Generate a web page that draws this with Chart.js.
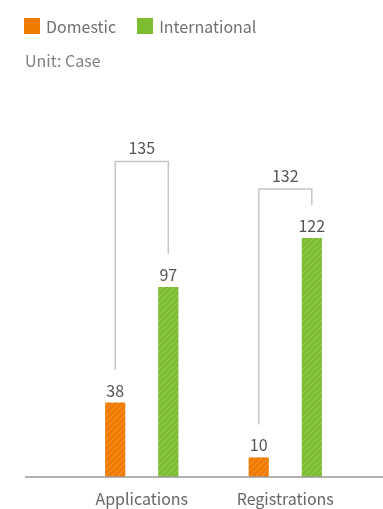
<!DOCTYPE html>
<html>
<head>
<meta charset="utf-8">
<script src="https://cdn.jsdelivr.net/npm/chart.js@4/dist/chart.umd.min.js"></script>
<style>
  html, body { margin: 0; padding: 0; background: #fff; }
  #wrap { position: relative; width: 383px; height: 509px; overflow: hidden; }
  #legend { position: absolute; left: 24px; top: 14px; font: 16px "Noto Sans CJK KR", "Noto Sans", sans-serif; color: #707070; display: flex; }
  #legend .item { display: flex; align-items: center; margin-right: 21px; }
  #legend .box { width: 16px; height: 16px; margin-right: 6px; }
  #unit { position: absolute; left: 25px; top: 48px; font: 16px "Noto Sans CJK KR", "Noto Sans", sans-serif; color: #808080; }
  canvas { position: absolute; left: 0; top: 0; }
</style>
</head>
<body>
<div id="wrap">
  <canvas id="chart" width="383" height="509"></canvas>
  <div id="legend"></div>
  <div id="unit">Unit: Case</div>
</div>
<script>
// categories and series
const categories = ['Applications', 'Registrations'];
const seriesNames = ['Domestic', 'International'];
const domestic = [38, 10];
const international = [97, 122];
const totals = [135, 132];

const seriesColors = ['#f07b00', '#7dbe30'];
const FONT = '"Noto Sans CJK KR", "Noto Sans", sans-serif';

// striped fill for the bars
function stripes(color) {
  const c = document.createElement('canvas');
  c.width = 6; c.height = 6;
  const g = c.getContext('2d');
  g.fillStyle = color;
  g.fillRect(0, 0, 6, 6);
  g.strokeStyle = 'rgba(255,255,255,0.22)';
  g.lineWidth = 1;
  g.beginPath();
  g.moveTo(-1, 7); g.lineTo(7, -1);
  g.moveTo(-4, 4); g.lineTo(4, -4);
  g.moveTo(2, 10); g.lineTo(10, 2);
  g.stroke();
  return g.createPattern(c, 'repeat');
}

// legend built from the series
const legend = document.getElementById('legend');
seriesNames.forEach(function (name, i) {
  const item = document.createElement('div');
  item.className = 'item';
  item.innerHTML = '<div class="box" style="background:' + seriesColors[i] + '"></div>' + name;
  legend.appendChild(item);
});

// value labels over bars + total brackets + baseline
const decorations = {
  id: 'decorations',
  afterDatasetsDraw(chart, args, opts) {
    const ctx = chart.ctx;
    const y = chart.scales.y;
    ctx.save();

    // baseline across the full width
    ctx.strokeStyle = '#999';
    ctx.lineWidth = 1.5;
    ctx.beginPath();
    ctx.moveTo(opts.baseLeft, y.getPixelForValue(0));
    ctx.lineTo(chart.width, y.getPixelForValue(0));
    ctx.stroke();

    ctx.font = '16px ' + FONT;
    ctx.fillStyle = '#555';
    ctx.textAlign = 'center';
    ctx.textBaseline = 'alphabetic';

    chart.data.datasets.forEach(function (ds, d) {
      chart.getDatasetMeta(d).data.forEach(function (bar, i) {
        ctx.fillText(ds.data[i], bar.x, bar.y - 6);
      });
    });

    const b0 = chart.getDatasetMeta(0).data;
    const b1 = chart.getDatasetMeta(1).data;
    ctx.strokeStyle = '#c6c6c6';
    ctx.lineWidth = 1.5;
    totals.forEach(function (t, i) {
      const top = y.getPixelForValue(opts.levels[i]);
      const xl = b0[i].x, xr = b1[i].x;
      ctx.beginPath();
      ctx.moveTo(xl, b0[i].y - 33);
      ctx.lineTo(xl, top);
      ctx.lineTo(xr, top);
      ctx.lineTo(xr, b1[i].y - 33);
      ctx.stroke();
      ctx.fillText(t, (xl + xr) / 2, top - 7);
    });
    ctx.restore();
  }
};

new Chart(document.getElementById('chart'), {
  type: 'bar',
  data: {
    labels: categories,
    datasets: [
      { label: seriesNames[0], data: domestic, backgroundColor: stripes(seriesColors[0]) },
      { label: seriesNames[1], data: international, backgroundColor: stripes(seriesColors[1]) }
    ]
  },
  options: {
    responsive: false,
    animation: false,
    layout: { padding: { left: 70, right: 26, top: 85, bottom: 0 } },
    datasets: { bar: { categoryPercentage: 0.74, barPercentage: 0.38 } },
    plugins: {
      legend: { display: false },
      tooltip: { enabled: false },
      decorations: { levels: [161, 147], baseLeft: 25 }
    },
    scales: {
      x: {
        grid: { display: false, drawTicks: false },
        border: { display: false },
        ticks: { padding: 12, color: '#666', font: { family: FONT, size: 16 } },
        afterFit: function (scale) { scale.height = 32; }
      },
      y: { display: false, min: 0, max: 200 }
    }
  },
  plugins: [decorations]
});
</script>
</body>
</html>
